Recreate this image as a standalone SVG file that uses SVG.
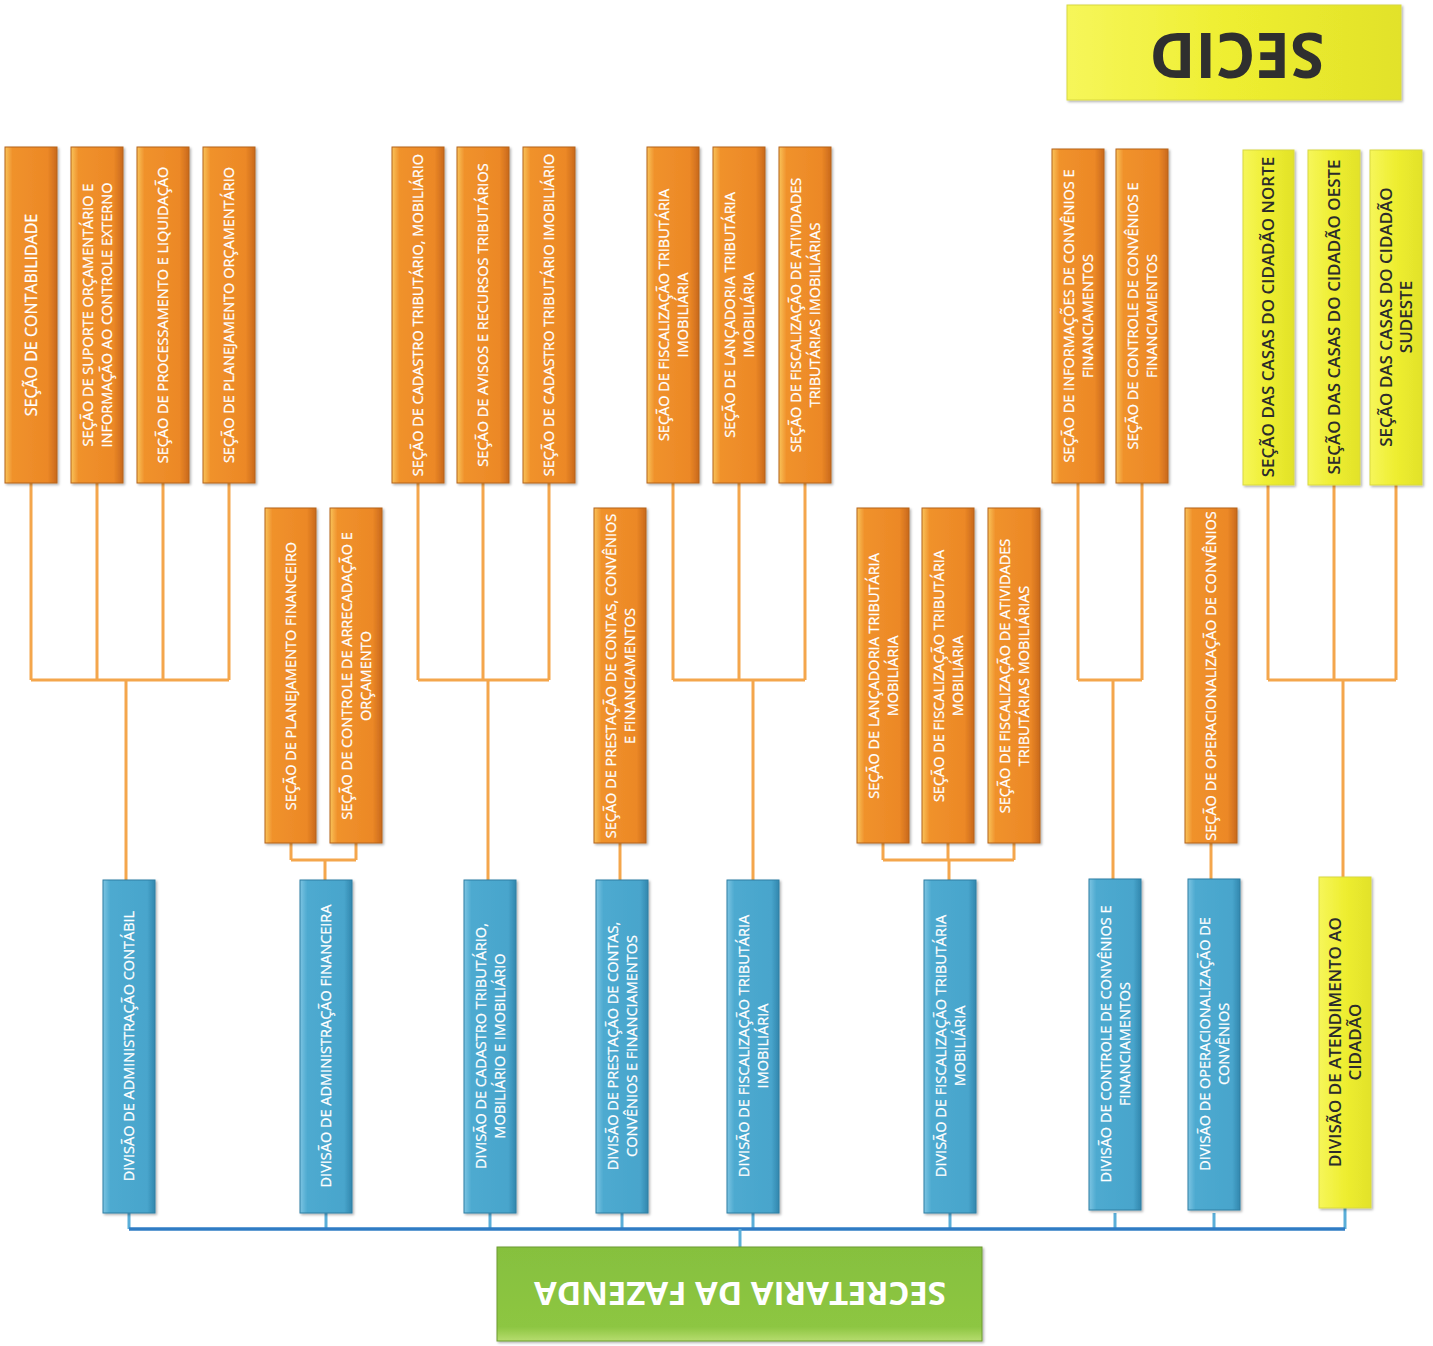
<svg xmlns="http://www.w3.org/2000/svg" width="1433" height="1346" viewBox="0 0 1433 1346">
<defs>
<linearGradient id="gOr" x1="0" y1="0" x2="1" y2="0">
<stop offset="0" stop-color="#f9c35a"/><stop offset="0.14" stop-color="#f0922c"/><stop offset="0.82" stop-color="#ec8826"/><stop offset="1" stop-color="#c9691c"/>
</linearGradient>
<linearGradient id="gBl" x1="0" y1="0" x2="1" y2="0">
<stop offset="0" stop-color="#7cc4e2"/><stop offset="0.14" stop-color="#4eaad0"/><stop offset="0.85" stop-color="#48a5cc"/><stop offset="1" stop-color="#3287ae"/>
</linearGradient>
<linearGradient id="gYe" x1="0" y1="0" x2="1" y2="0">
<stop offset="0" stop-color="#f6f65a"/><stop offset="0.5" stop-color="#eeee30"/><stop offset="1" stop-color="#e2e22a"/>
</linearGradient>
<linearGradient id="gGr" x1="0" y1="0" x2="0" y2="1">
<stop offset="0" stop-color="#86c03e"/><stop offset="0.85" stop-color="#8dc642"/><stop offset="1" stop-color="#b6dc6e"/>
</linearGradient>
<filter id="sh" x="-20%" y="-5%" width="140%" height="110%">
<feDropShadow dx="1.5" dy="1.5" stdDeviation="1.2" flood-color="#000" flood-opacity="0.3"/>
</filter>
</defs>
<style>
.or{fill:url(#gOr);stroke:#b5621c;stroke-width:1;filter:url(#sh)}
.bl{fill:url(#gBl);stroke:#2e7ea3;stroke-width:1;filter:url(#sh)}
.ye{fill:url(#gYe);stroke:#d8d840;stroke-width:1;filter:url(#sh)}
.gr{fill:url(#gGr);stroke:#6d9a30;stroke-width:1;filter:url(#sh)}
.t{font-family:"Open Sans","Noto Sans",sans-serif;font-size:14.5px;fill:#ffffff;stroke:#ffffff;stroke-width:0.25;text-anchor:middle}
.ty{font-family:"Open Sans","Noto Sans",sans-serif;font-size:17px;font-weight:600;fill:#2b2b2b;text-anchor:middle}
.co{fill:none;stroke:#f4a64c;stroke-width:3}
.cb{fill:none;stroke:#5aaed8;stroke-width:3}
.cm{fill:none;stroke:#2f7cc4;stroke-width:3.5}
</style>
<rect width="1433" height="1346" fill="#ffffff"/>

<g id="connectors">
<path class="co" d="M31,483V680M97,483V680M163,483V680M229,483V680M31,680H229M126,680V880"/>
<path class="co" d="M291,843V860M356,843V860M291,860H356M325,860V880"/>
<path class="co" d="M418,483V680M483,483V680M549,483V680M418,680H549M488,680V880"/>
<path class="co" d="M620,843V880"/>
<path class="co" d="M673,483V680M739,483V680M805,483V680M673,680H805M753,680V880"/>
<path class="co" d="M883,843V860M948,843V860M1014,843V860M883,860H1014M949,860V880"/>
<path class="co" d="M1078,483V680M1142,483V680M1078,680H1142M1113,680V880"/>
<path class="co" d="M1211,843V880"/>
<path class="co" d="M1268,485V680M1334,485V680M1396,485V680M1268,680H1396M1343,680V877"/>
<path class="cb" d="M129,1213V1229M326,1213V1229M490,1213V1229M622,1213V1229M753,1213V1229M950,1213V1229M1115,1213V1229M1214,1213V1229M1345,1208V1229"/>
<path class="cm" d="M129,1229H1345"/>
<path class="cb" d="M740,1229V1247"/>
</g>

<g id="secid"><rect class="ye" x="1067" y="5" width="334" height="95"/>
<text transform="translate(1237,55) rotate(180)" y="22" style="font-family:'Open Sans','Noto Sans',sans-serif;font-size:62px;font-weight:700;fill:#2f2f2f;text-anchor:middle">SECID</text></g>

<g id="t1"><rect class="or" x="5" y="147" width="52" height="336"/>
<text class="t" transform="translate(31,315) rotate(-90)" y="6" style="font-size:16px">SEÇÃO DE CONTABILIDADE</text></g>
<g id="t2"><rect class="or" x="71" y="147" width="52" height="336"/>
<text class="t" transform="translate(97,315) rotate(-90)"><tspan x="0" y="-4">SEÇÃO DE SUPORTE ORÇAMENTÁRIO E</tspan><tspan x="0" y="14.5">INFORMAÇÃO AO CONTROLE EXTERNO</tspan></text></g>
<g id="t3"><rect class="or" x="137" y="147" width="52" height="336"/>
<text class="t" transform="translate(163,315) rotate(-90)" y="5">SEÇÃO DE PROCESSAMENTO E LIQUIDAÇÃO</text></g>
<g id="t4"><rect class="or" x="203" y="147" width="52" height="336"/>
<text class="t" transform="translate(229,315) rotate(-90)" y="5">SEÇÃO DE PLANEJAMENTO ORÇAMENTÁRIO</text></g>

<g id="t5"><rect class="or" x="392" y="147" width="52" height="336"/>
<text class="t" transform="translate(418,315) rotate(-90)" y="5">SEÇÃO DE CADASTRO TRIBUTÁRIO, MOBILIÁRIO</text></g>
<g id="t6"><rect class="or" x="457" y="147" width="52" height="336"/>
<text class="t" transform="translate(483,315) rotate(-90)" y="5">SEÇÃO DE AVISOS E RECURSOS TRIBUTÁRIOS</text></g>
<g id="t7"><rect class="or" x="523" y="147" width="52" height="336"/>
<text class="t" transform="translate(549,315) rotate(-90)" y="5">SEÇÃO DE CADASTRO TRIBUTÁRIO IMOBILIÁRIO</text></g>

<g id="t8"><rect class="or" x="647" y="147" width="52" height="336"/>
<text class="t" transform="translate(673,315) rotate(-90)"><tspan x="0" y="-4">SEÇÃO DE FISCALIZAÇÃO TRIBUTÁRIA</tspan><tspan x="0" y="14.5">IMOBILIÁRIA</tspan></text></g>
<g id="t9"><rect class="or" x="713" y="147" width="52" height="336"/>
<text class="t" transform="translate(739,315) rotate(-90)"><tspan x="0" y="-4">SEÇÃO DE LANÇADORIA TRIBUTÁRIA</tspan><tspan x="0" y="14.5">IMOBILIÁRIA</tspan></text></g>
<g id="t10"><rect class="or" x="779" y="147" width="52" height="336"/>
<text class="t" transform="translate(805,315) rotate(-90)"><tspan x="0" y="-4">SEÇÃO DE FISCALIZAÇÃO DE ATIVIDADES</tspan><tspan x="0" y="14.5">TRIBUTÁRIAS IMOBILIÁRIAS</tspan></text></g>

<g id="t11"><rect class="or" x="1052" y="149" width="52" height="334"/>
<text class="t" transform="translate(1078,316) rotate(-90)"><tspan x="0" y="-4">SEÇÃO DE INFORMAÇÕES DE CONVÊNIOS E</tspan><tspan x="0" y="14.5">FINANCIAMENTOS</tspan></text></g>
<g id="t12"><rect class="or" x="1116" y="149" width="52" height="334"/>
<text class="t" transform="translate(1142,316) rotate(-90)"><tspan x="0" y="-4">SEÇÃO DE CONTROLE DE CONVÊNIOS E</tspan><tspan x="0" y="14.5">FINANCIAMENTOS</tspan></text></g>

<g id="y1"><rect class="ye" x="1243" y="150" width="51" height="335"/>
<text class="ty" transform="translate(1268,317) rotate(-90)" y="6">SEÇÃO DAS CASAS DO CIDADÃO NORTE</text></g>
<g id="y2"><rect class="ye" x="1308" y="150" width="52" height="335"/>
<text class="ty" transform="translate(1334,317) rotate(-90)" y="6">SEÇÃO DAS CASAS DO CIDADÃO OESTE</text></g>
<g id="y3"><rect class="ye" x="1370" y="150" width="52" height="335"/>
<text class="ty" transform="translate(1396,317) rotate(-90)"><tspan x="0" y="-4">SEÇÃO DAS CASAS DO CIDADÃO</tspan><tspan x="0" y="16">SUDESTE</tspan></text></g>

<g id="m1"><rect class="or" x="265" y="508" width="51" height="335"/>
<text class="t" transform="translate(291,676) rotate(-90)" y="5">SEÇÃO DE PLANEJAMENTO FINANCEIRO</text></g>
<g id="m2"><rect class="or" x="330" y="508" width="52" height="335"/>
<text class="t" transform="translate(356,676) rotate(-90)"><tspan x="0" y="-4">SEÇÃO DE CONTROLE DE ARRECADAÇÃO E</tspan><tspan x="0" y="14.5">ORÇAMENTO</tspan></text></g>
<g id="m3"><rect class="or" x="594" y="508" width="52" height="335"/>
<text class="t" transform="translate(620,676) rotate(-90)"><tspan x="0" y="-4">SEÇÃO DE PRESTAÇÃO DE CONTAS, CONVÊNIOS</tspan><tspan x="0" y="14.5">E FINANCIAMENTOS</tspan></text></g>
<g id="m4"><rect class="or" x="857" y="508" width="52" height="335"/>
<text class="t" transform="translate(883,676) rotate(-90)"><tspan x="0" y="-4">SEÇÃO DE LANÇADORIA TRIBUTÁRIA</tspan><tspan x="0" y="14.5">MOBILIÁRIA</tspan></text></g>
<g id="m5"><rect class="or" x="922" y="508" width="52" height="335"/>
<text class="t" transform="translate(948,676) rotate(-90)"><tspan x="0" y="-4">SEÇÃO DE FISCALIZAÇÃO TRIBUTÁRIA</tspan><tspan x="0" y="14.5">MOBILIÁRIA</tspan></text></g>
<g id="m6"><rect class="or" x="988" y="508" width="52" height="335"/>
<text class="t" transform="translate(1014,676) rotate(-90)"><tspan x="0" y="-4">SEÇÃO DE FISCALIZAÇÃO DE ATIVIDADES</tspan><tspan x="0" y="14.5">TRIBUTÁRIAS MOBILIÁRIAS</tspan></text></g>
<g id="m7"><rect class="or" x="1185" y="508" width="52" height="335"/>
<text class="t" transform="translate(1211,676) rotate(-90)" y="5">SEÇÃO DE OPERACIONALIZAÇÃO DE CONVÊNIOS</text></g>

<g id="b1"><rect class="bl" x="103" y="880" width="52" height="333"/>
<text class="t" transform="translate(129,1046) rotate(-90)" y="5">DIVISÃO DE ADMINISTRAÇÃO CONTÁBIL</text></g>
<g id="b2"><rect class="bl" x="300" y="880" width="52" height="333"/>
<text class="t" transform="translate(326,1046) rotate(-90)" y="5">DIVISÃO DE ADMINISTRAÇÃO FINANCEIRA</text></g>
<g id="b3"><rect class="bl" x="464" y="880" width="52" height="333"/>
<text class="t" transform="translate(490,1046) rotate(-90)"><tspan x="0" y="-4">DIVISÃO DE CADASTRO TRIBUTÁRIO,</tspan><tspan x="0" y="14.5">MOBILIÁRIO E IMOBILIÁRIO</tspan></text></g>
<g id="b4"><rect class="bl" x="596" y="880" width="52" height="333"/>
<text class="t" transform="translate(622,1046) rotate(-90)"><tspan x="0" y="-4">DIVISÃO DE PRESTAÇÃO DE CONTAS,</tspan><tspan x="0" y="14.5">CONVÊNIOS E FINANCIAMENTOS</tspan></text></g>
<g id="b5"><rect class="bl" x="727" y="880" width="52" height="333"/>
<text class="t" transform="translate(753,1046) rotate(-90)"><tspan x="0" y="-4">DIVISÃO DE FISCALIZAÇÃO TRIBUTÁRIA</tspan><tspan x="0" y="14.5">IMOBILIÁRIA</tspan></text></g>
<g id="b6"><rect class="bl" x="924" y="880" width="52" height="333"/>
<text class="t" transform="translate(950,1046) rotate(-90)"><tspan x="0" y="-4">DIVISÃO DE FISCALIZAÇÃO TRIBUTÁRIA</tspan><tspan x="0" y="14.5">MOBILIÁRIA</tspan></text></g>
<g id="b7"><rect class="bl" x="1089" y="879" width="52" height="331"/>
<text class="t" transform="translate(1115,1044) rotate(-90)"><tspan x="0" y="-4">DIVISÃO DE CONTROLE DE CONVÊNIOS E</tspan><tspan x="0" y="14.5">FINANCIAMENTOS</tspan></text></g>
<g id="b8"><rect class="bl" x="1188" y="879" width="52" height="331"/>
<text class="t" transform="translate(1214,1044) rotate(-90)"><tspan x="0" y="-4">DIVISÃO DE OPERACIONALIZAÇÃO DE</tspan><tspan x="0" y="14.5">CONVÊNIOS</tspan></text></g>
<g id="b9"><rect class="ye" x="1319" y="877" width="52" height="331"/>
<text class="ty" transform="translate(1345,1042) rotate(-90)"><tspan x="0" y="-4">DIVISÃO DE ATENDIMENTO AO</tspan><tspan x="0" y="16">CIDADÃO</tspan></text></g>

<g id="sefaz"><rect class="gr" x="497" y="1247" width="485" height="94"/>
<text transform="translate(740,1294) rotate(180)" y="12" style="font-family:'Open Sans','Noto Sans',sans-serif;font-size:33px;font-weight:700;fill:#ffffff;text-anchor:middle">SECRETARIA DA FAZENDA</text></g>
</svg>
